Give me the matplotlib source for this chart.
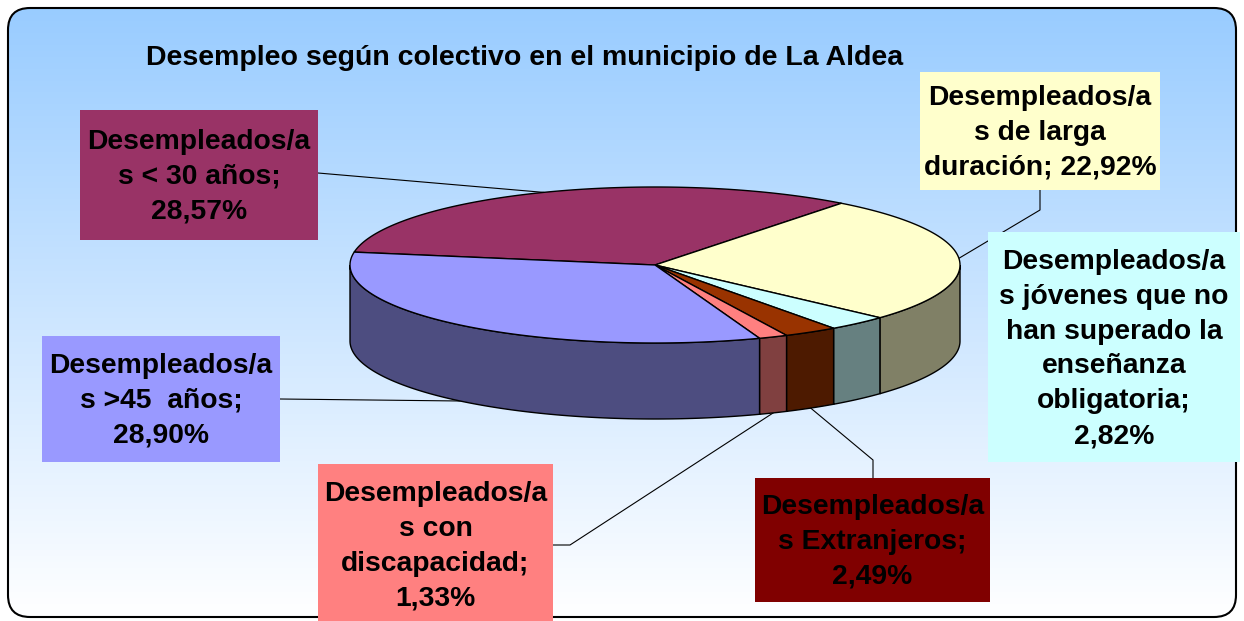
import numpy as np
import matplotlib.pyplot as plt
from matplotlib.patches import Polygon, Rectangle, FancyBboxPatch
from matplotlib.colors import to_rgb

plt.rcParams['font.family'] = ['Liberation Sans', 'DejaVu Sans']

title = "Desempleo según colectivo en el municipio de La Aldea"

labels = [
    "Desempleados/a\ns < 30 años;\n",
    "Desempleados/a\ns de larga\nduración; ",
    "Desempleados/a\ns jóvenes que no\nhan superado la\nenseñanza\nobligatoria;\n",
    "Desempleados/a\ns Extranjeros;\n",
    "Desempleados/a\ns con\ndiscapacidad;\n",
    "Desempleados/a\ns >45  años;\n",
]
values = [28.57, 22.92, 2.82, 2.49, 1.33, 28.90]
colors = ["#993366", "#FFFFCC", "#CCFFFF", "#993300", "#FF8080", "#9999FF"]
box_colors = ["#993366", "#FFFFCC", "#CCFFFF", "#800000", "#FF8080", "#9999FF"]

# layout (pixels)
W, H = 1244, 621
xc, yc = 655, 265     # centre of pie top
a, b = 305, 78        # ellipse semi-axes
depth = 76
start = 279.5         # degrees clockwise from 12 o'clock

# label boxes: x0, y0, x1, y1
boxes = [(80, 110, 318, 240), (920, 72, 1160, 190), (988, 232, 1240, 462),
         (755, 478, 990, 602), (318, 464, 553, 625), (42, 336, 280, 462)]
# leader elbows (None = no leader)
leaders = [[(318, 173)], [(1040, 190), (1040, 210)], None,
           [(873, 478), (873, 460)], [(553, 545), (570, 545)], [(280, 399)]]


def pt(t, dz=0.0):
    r = np.radians(t)
    return xc + a * np.sin(r), yc - b * np.cos(r) + dz


def darker(c, f=0.5):
    return tuple(v * f for v in to_rgb(c))


fig = plt.figure(figsize=(W / 100, H / 100), dpi=100)
ax = fig.add_axes([0, 0, 1, 1])
ax.set_xlim(0, W)
ax.set_ylim(H, 0)
ax.axis("off")

# background with vertical gradient and rounded border
frame = FancyBboxPatch((8, 8), W - 16, H - 12, boxstyle="round,pad=0,rounding_size=22",
                       facecolor="none", edgecolor="black", linewidth=1.5, zorder=2)
ax.add_patch(frame)
grad = np.linspace(0, 1, 256)[:, None]
top_c = np.array(to_rgb("#99CCFF"))
bot_c = np.array([1.0, 1.0, 1.0])
img = top_c[None, None, :] * (1 - grad[:, :, None]) + bot_c[None, None, :] * grad[:, :, None]
im = ax.imshow(img, extent=(8, W - 8, H - 4, 8), aspect="auto", zorder=1)
im.set_clip_path(frame)

# slice angles
fr = np.array(values) / sum(values) * 360
t0s = start + np.concatenate([[0], np.cumsum(fr)[:-1]])
t1s = t0s + fr

# sides (front half only)
for t0, t1, c in zip(t0s, t1s, colors):
    for sh in (-360, 0, 360):
        lo, hi = max(t0 + sh, 90), min(t1 + sh, 270)
        if hi > lo:
            ts = np.linspace(lo, hi, 120)
            top = [pt(t) for t in ts]
            bot = [pt(t, depth) for t in ts[::-1]]
            ax.add_patch(Polygon(top + bot, closed=True, facecolor=darker(c),
                                 edgecolor="black", linewidth=1.0, zorder=4))

# top faces
for t0, t1, c in zip(t0s, t1s, colors):
    ts = np.linspace(t0, t1, 200)
    poly = [(xc, yc)] + [pt(t) for t in ts]
    ax.add_patch(Polygon(poly, closed=True, facecolor=c, edgecolor="black",
                         linewidth=1.0, zorder=4))

# labels and leaders
for i, (lab, v, bc, bx) in enumerate(zip(labels, values, box_colors, boxes)):
    x0, y0, x1, y1 = bx
    ax.add_patch(Rectangle((x0, y0), x1 - x0, y1 - y0, facecolor=bc,
                           edgecolor="none", zorder=6))
    txt = lab + f"{v:.2f}".replace(".", ",") + "%"
    ax.text((x0 + x1) / 2, (y0 + y1) / 2 + 2, txt, ha="center", va="center",
            multialignment="center", fontsize=20.3, fontweight="bold",
            color="black", linespacing=1.44, zorder=7)
    if leaders[i] is not None:
        tm = (t0s[i] + t1s[i]) / 2
        dz = depth if 90 < tm % 360 < 270 else 0
        ex, ey = pt(tm, dz)
        pts = leaders[i] + [(ex, ey)]
        xs, ys = zip(*pts)
        ax.plot(xs, ys, color="black", linewidth=0.8, zorder=3)

ax.text(525, 58, title, ha="center", va="center", fontsize=20.5,
        fontweight="bold", color="black", zorder=7)

fig.savefig("out.png", dpi=100)
